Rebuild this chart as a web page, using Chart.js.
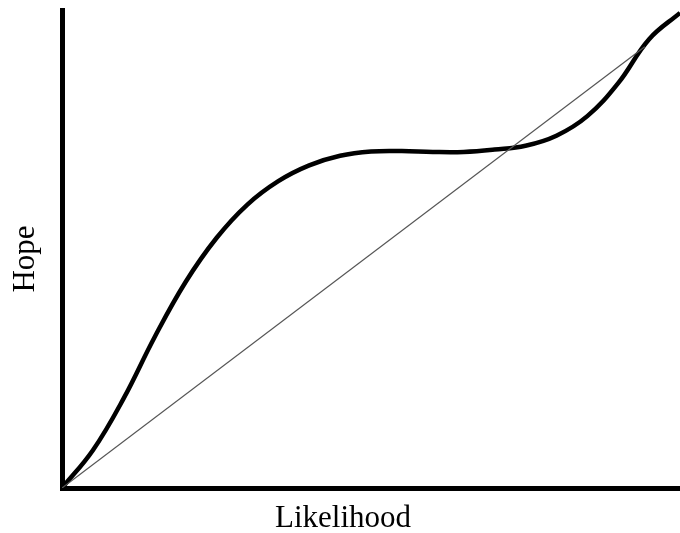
<!DOCTYPE html>
<html>
<head>
<meta charset="utf-8">
<script src="https://cdn.jsdelivr.net/npm/chart.js@4.4.1/dist/chart.umd.min.js"></script>
<style>
  html, body { margin: 0; padding: 0; background: #fff; }
  #wrap { width: 680px; height: 533px; }
</style>
</head>
<body>
<div id="wrap"><canvas id="chart" width="680" height="533"></canvas></div>
<script>
// Hope vs likelihood curve (0-100 on both axes)
const curveX = [0, 5, 10, 15, 20, 25, 30, 35, 40, 45, 50, 55, 60, 65, 70, 75, 80, 85, 90, 95, 100];
const curveY = [0, 7.9, 18.8, 31.6, 43.1, 52.3, 59.3, 64.2, 67.5, 69.5, 70.4, 70.5, 70.3, 70.3, 70.8, 71.6, 73.7, 77.8, 84.7, 93.9, 99.4];

// straight reference line
const diagX = [0, 94.3];
const diagY = [0, 92.3];

const xLabel = 'Likelihood';
const yLabel = 'Hope';

const toPoints = (xs, ys) => xs.map((x, i) => ({ x: x, y: ys[i] }));

// axis labels sit a bit off-centre in the original, so place them by hand
const axisLabels = {
    id: 'axisLabels',
    afterDraw(chart) {
        const ctx = chart.ctx;
        ctx.save();
        ctx.fillStyle = '#000';
        ctx.font = '31px "Liberation Serif", "Times New Roman", serif';
        ctx.textAlign = 'center';
        ctx.textBaseline = 'alphabetic';
        ctx.fillText(xLabel, 343, 527);
        ctx.translate(34, 259);
        ctx.rotate(-Math.PI / 2);
        ctx.fillText(yLabel, 0, 0);
        ctx.restore();
    }
};

new Chart(document.getElementById('chart'), {
    type: 'line',
    data: {
        datasets: [
            {
                data: toPoints(diagX, diagY),
                borderColor: '#555',
                borderWidth: 1.2,
                pointRadius: 0,
                tension: 0
            },
            {
                data: toPoints(curveX, curveY),
                borderColor: '#000',
                borderWidth: 4.5,
                pointRadius: 0,
                tension: 0.4
            }
        ]
    },
    options: {
        responsive: false,
        animation: false,
        layout: { padding: { left: 62, right: 0, top: 10, bottom: 45 } },
        plugins: { legend: { display: false }, tooltip: { enabled: false } },
        scales: {
            x: {
                type: 'linear', min: 0, max: 100,
                grid: { display: false, drawTicks: false },
                ticks: { display: false },
                border: { display: true, color: '#000', width: 5 }
            },
            y: {
                min: 0, max: 100,
                grid: { display: false, drawTicks: false },
                ticks: { display: false },
                border: { display: true, color: '#000', width: 5 }
            }
        }
    },
    plugins: [axisLabels]
});
</script>
</body>
</html>
